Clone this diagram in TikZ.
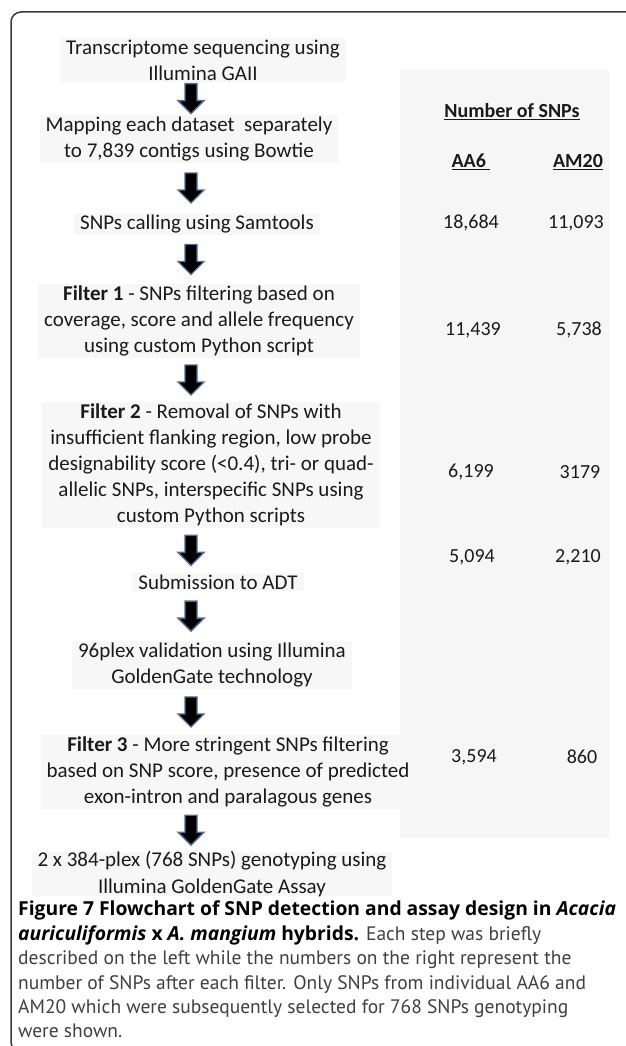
\documentclass[tikz,border=0pt]{standalone}
\usepackage{fontspec}
\setmainfont{Carlito}
\newfontfamily\capfont{PT Sans}
\newfontfamily\capbold{Open Sans}
\usetikzlibrary{calc}
\definecolor{framegray}{HTML}{3A3A3A}
\definecolor{boxgray}{HTML}{F7F7F7}
\definecolor{colgray}{HTML}{F6F6F6}
\definecolor{arrowblue}{HTML}{4E6E9A}
\definecolor{captext}{HTML}{404040}
\definecolor{inktext}{HTML}{1A1A1A}
\begin{document}
\begin{tikzpicture}[x=1pt,y=-1pt,
  stepbox/.style={fill=boxgray, align=center, text=inktext,
    font=\fontsize{21}{26}\selectfont, inner xsep=6pt, inner ysep=1.5pt},
  numtext/.style={text=inktext, font=\fontsize{20}{24}\selectfont, inner sep=0pt},
  headtext/.style={text=inktext, font=\bfseries\fontsize{20}{24}\selectfont, inner sep=0pt},
  flowarrow/.style={draw=arrowblue, fill=black, line width=1.3pt, line join=miter}
]
\useasboundingbox (0,0) rectangle (625,1046);
\fill[white] (0,0) rectangle (625,1046);

% frame: top edge and left edge with a rounded corner
\draw[framegray, line width=1.5pt, rounded corners=10pt]
  (630,12) -- (11,12) -- (11,1052) -- (40,1052);

% shaded column behind the SNP counts
\fill[colgray] (400,70) rectangle (609,838);

% axis of the arrows
\coordinate (ax) at (191,0);

% workflow steps
\node[stepbox] (n1) at (203,60) {Transcriptome sequencing using\\Illumina GAII};
\node[stepbox] (n2) at (189,139) {Mapping each dataset\ \ separately\\to 7,839 contigs using Bowtie};
\node[stepbox] (n3) at (197,224) {SNPs calling using Samtools};
\node[stepbox] (n4) at (199,321) {\textbf{Filter 1} - SNPs filtering based on\\coverage, score and allele frequency\\using custom Python script};
\node[stepbox] (n5) at (211,465) {\textbf{Filter 2} - Removal of SNPs with\\insufficient flanking region, low probe\\designability score (<0.4), tri- or quad-\\allelic SNPs, interspecific SNPs using\\custom Python scripts};
\node[stepbox] (n6) at (218,582) {Submission to ADT};
\node[stepbox] (n7) at (212,665) {96plex validation using Illumina\\GoldenGate technology};
\node[stepbox] (n8) at (228,772) {\textbf{Filter 3} - More stringent SNPs filtering\\based on SNP score, presence of predicted\\exon-intron and paralagous genes};
\node[stepbox, inner ysep=0pt] (n9) at (212,874) {2 x 384-plex (768 SNPs) genotyping using\\Illumina GoldenGate Assay};

% block arrows between steps: shaft 12 wide, head 26 wide, 30 long
\foreach \a/\b in {n1/n2,n2/n3,n3/n4,n4/n5,n5/n6,n6/n7,n7/n8,n8/n9}{
  \path (\a.south -| ax) -- (\b.north -| ax) coordinate[midway] (m);
  \draw[flowarrow] ($(m)+(-6,-15)$) -- ($(m)+(6,-15)$) -- ($(m)+(6,2)$)
    -- ($(m)+(13,2)$) -- ($(m)+(0,15)$) -- ($(m)+(-13,2)$)
    -- ($(m)+(-6,2)$) -- cycle;
}

% SNP counts
\node[headtext] (hd) at (512,112) {\underline{Number of SNPs}};
\node[headtext] (hA) at (471,162) {\underline{AA6~}};
\node[headtext] (hM) at (578,162) {\underline{AM20}};

\node[numtext] (a1) at (471,223) {18,684};
\node[numtext] (m1) at (576,223) {11,093};
\node[numtext] (a2) at (473,330) {11,439};
\node[numtext] (m2) at (579,330) {5,738};
\node[numtext] (a3) at (471,472) {6,199};
\node[numtext] (m3) at (580,472) {3179};
\node[numtext] (a4) at (472,557) {5,094};
\node[numtext] (m4) at (578,557) {2,210};
\node[numtext] (a5) at (474,757) {3,594};
\node[numtext] (m5) at (582,757) {860};

% caption
\node[anchor=north west, align=left, inner sep=0pt, text=captext,
      font=\capfont\fontsize{19.5}{24.4}\selectfont] (cap) at (18,901)
{{\capbold\color{black}\bfseries\fontsize{19.3}{24.4}\selectfont Figure 7 Flowchart of SNP detection and assay design in \textit{Acacia}}\\
{\capbold\color{black}\bfseries\fontsize{19.3}{24.4}\selectfont\itshape auriculiformis \upshape x \itshape A. mangium \upshape hybrids.} Each step was briefly\\
described on the left while the numbers on the right represent the\\
number of SNPs after each filter. Only SNPs from individual AA6 and\\
AM20 which were subsequently selected for 768 SNPs genotyping\\
were shown.};
\end{tikzpicture}
\end{document}
